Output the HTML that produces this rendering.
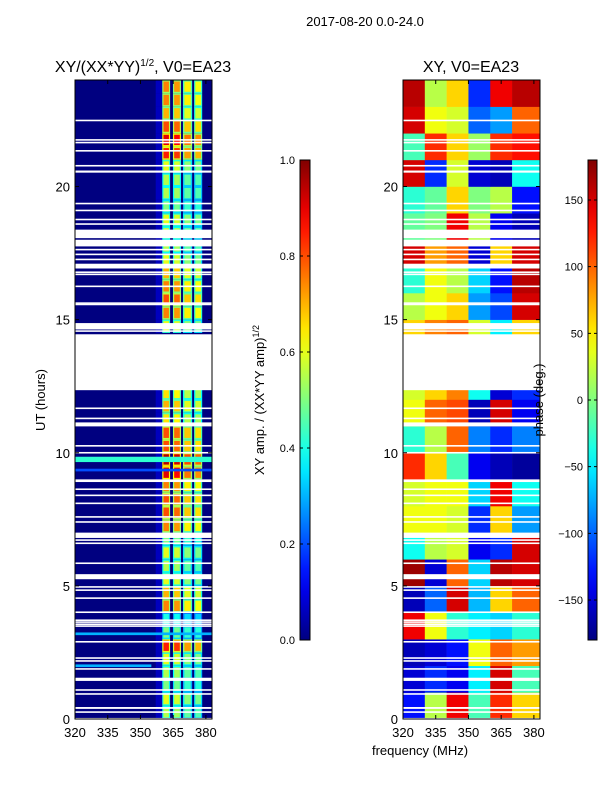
<!DOCTYPE html>
<html><head><meta charset="utf-8">
<style>
body{margin:0;background:#fff;}
svg{display:block;font-family:"Liberation Sans","DejaVu Sans",sans-serif;}
</style></head>
<body>
<svg id="fig" width="600" height="800" viewBox="0 0 600 800">
<rect x="0" y="0" width="600" height="800" fill="#fff"/>
<text x="365" y="26" font-size="13" text-anchor="middle">2017-08-20 0.0-24.0</text>
<text x="143" y="72" font-size="16" text-anchor="middle">XY/(XX*YY)<tspan font-size="10" dy="-6">1/2</tspan><tspan dy="6">, V0=EA23</tspan></text>
<text x="471" y="72" font-size="16" text-anchor="middle">XY, V0=EA23</text>
<g id="left"></g>
<g id="right"></g>
<g id="axes"></g>
<text transform="translate(45,400) rotate(-90)" font-size="13" text-anchor="middle">UT (hours)</text>
<text x="420" y="755" font-size="13" text-anchor="middle">frequency (MHz)</text>
<text transform="translate(264,400) rotate(-90)" font-size="13" text-anchor="middle">XY amp. / (XX*YY amp)<tspan font-size="9" dy="-5">1/2</tspan></text>
<text transform="translate(543,400) rotate(-90)" font-size="13" text-anchor="middle">phase (deg.)</text>
</svg>
<script>
// ---------- data ----------
const freqDomain = [320, 382.8];
const hourDomain = [0, 24];
const xTicks = [320, 335, 350, 365, 380];
const yTicks = [0, 5, 10, 15, 20];
const ampTicks = [0.0, 0.2, 0.4, 0.6, 0.8, 1.0];
const phaseTicks = [-150, -100, -50, 0, 50, 100, 150];
// flagged (white) time ranges in hours
const gaps = [
 [22.45,22.51],[21.72,21.78],[21.62,21.68],[21.31,21.37],[20.75,20.81],[20.52,20.6],
 [19.33,19.39],[19.07,19.13],[18.73,18.79],[18.56,18.62],[18.06,18.38],[17.75,18.0],
 [17.6,17.66],[17.42,17.48],[17.23,17.29],[16.92,17.1],[16.75,16.81],[16.67,16.73],
 [16.22,16.28],[15.59,15.65],[15.54,15.6],[14.63,14.87],[14.54,14.6],[12.35,14.45],
 [11.64,11.7],[11.26,11.32],[10.99,11.14],[10.23,10.29],[9.97,10.03],[8.9,9.0],
 [8.6,8.66],[8.37,8.43],[8.07,8.13],[7.56,7.62],[7.37,7.43],[6.8,7.0],[6.69,6.75],
 [6.57,6.63],[5.82,5.88],[5.25,5.44],[4.93,4.99],[4.81,4.87],[4.51,4.57],[3.98,4.04],
 [3.68,3.74],[3.61,3.67],[3.53,3.59],[3.46,3.52],[2.87,2.93],[2.26,2.32],[2.15,2.21],
 [1.85,1.91],[1.43,1.55],[1.06,1.12],[0.91,0.97],[0.38,0.45],[0.23,0.29],[0,0.04]
];
// RFI band edges in MHz
const bandLo = [360.0, 364.9, 369.5, 374.6];
const bandHi = [363.6, 368.6, 373.7, 378.3];
const bandScale = [1.0, 0.97, 0.85, 0.82];
// band amplitude per half hour, 0.0 .. 24.0
const bandAmp = [
 0.55,0.6,0.5,0.55,0.6,0.85,0.5,0.4,0.75,0.7,0.6,0.55,0.6,0.5,0.75,0.8,
 0.8,0.75,0.9,0.95,0.8,0.8,0.65,0.7,0.65,0.0,0.0,0.0,0.0,0.6,0.75,0.8,
 0.75,0.7,0.6,0.55,0.55,0.6,0.5,0.55,0.55,0.6,0.85,0.9,0.8,0.7,0.75,0.75
];
const bgAmp = 0.0;
// broadband stripes
const stripeStart = [9.65, 9.3, 3.15, 1.95];
const stripeEnd = [9.85, 9.4, 3.25, 2.05];
const stripeAmp = [0.42, 0.2, 0.3, 0.3];
const stripeFreqEnd = [382.8, 382.8, 382.8, 355];
// phase grid: column edges (MHz) and hourly rows (hour 0 .. 23), degrees
const phaseCols = [320, 330, 340, 350, 360, 370, 382.8];
const phaseRows = [
 [-130,20,140,-20,120,60],
 [-150,-120,-140,-50,150,-20],
 [-160,-150,-130,40,100,80],
 [140,40,-30,-50,-60,-30],
 [-160,-100,150,-70,60,100],
 [170,-150,100,-60,160,150],
 [-40,20,30,-140,-120,150],
 [40,40,30,-120,60,-80],
 [30,40,40,-60,140,-40],
 [120,60,-20,-140,-160,-170],
 [-30,20,100,-90,-120,-90],
 [40,100,110,-160,150,-140],
 [30,60,90,-40,-150,-120],
 [0,0,0,0,0,0],
 [60,90,100,30,-50,60],
 [20,40,60,-80,-110,150],
 [-30,40,20,-60,-130,160],
 [150,80,100,-150,60,150],
 [-10,0,140,20,-140,-160],
 [-30,-10,60,0,20,-130],
 [150,-120,30,-150,-160,-40],
 [-20,120,60,10,120,130],
 [150,40,30,-100,-80,100],
 [160,20,60,-120,140,160]
];
// ---------- helpers ----------
const NS = "http://www.w3.org/2000/svg";
const LX = 75, RX = 403, PW = 137, PT = 80, PB = 719;
function fx(f, x0){ return x0 + (f - freqDomain[0]) / (freqDomain[1] - freqDomain[0]) * PW; }
function hy(h){ return PB - (h - hourDomain[0]) / (hourDomain[1] - hourDomain[0]) * (PB - PT); }
function cl(v){ return Math.max(0, Math.min(1, v)); }
function jet(v){
  v = cl(v);
  const r = cl(1.5 - Math.abs(4*v - 3)), g = cl(1.5 - Math.abs(4*v - 2)), b = cl(1.5 - Math.abs(4*v - 1));
  return "rgb(" + Math.round(r*255) + "," + Math.round(g*255) + "," + Math.round(b*255) + ")";
}
function mk(parent, tag, attrs){
  const e = document.createElementNS(NS, tag);
  for (const k in attrs) e.setAttribute(k, attrs[k]);
  parent.appendChild(e);
  return e;
}
// ---------- left amplitude heatmap ----------
const L = document.getElementById("left");
let r0 = mk(L, "rect", {x: LX, y: PT, width: PW, height: PB - PT, fill: jet(bgAmp)});


for (let i = 0; i < bandAmp.length; i++) {
  const h0 = i * 0.5, h1 = h0 + 0.5;
  const a = bandAmp[i];
  if (a <= 0) continue;
  let g = mk(L, "rect", {x: fx(357, LX), y: hy(h1), width: fx(bandLo[0], LX) - fx(357, LX), height: hy(h0) - hy(h1), fill: jet(0.06)});
  
  
  for (let b = 0; b < bandLo.length; b++) {
    const v = a * bandScale[b];
    const x0 = fx(bandLo[b], LX), x1 = fx(bandHi[b], LX);
    let e = mk(L, "rect", {x: x0, y: hy(h1), width: x1 - x0, height: hy(h0) - hy(h1), fill: jet(v * 0.7)});
    
    
    const w = x1 - x0;
    let c = mk(L, "rect", {x: x0 + w*0.15, y: hy(h1) + 1.5, width: w*0.7, height: hy(h0) - hy(h1) - 3, fill: jet(v)});
    
    
  }
}
for (let i = 0; i < stripeStart.length; i++) {
  let s = mk(L, "rect", {x: LX, y: hy(stripeEnd[i]), width: fx(stripeFreqEnd[i], LX) - LX, height: hy(stripeStart[i]) - hy(stripeEnd[i]), fill: jet(stripeAmp[i])});
  
  
}
// ---------- right phase heatmap ----------
const R = document.getElementById("right");
for (let i = 0; i < phaseRows.length; i++) {
  for (let j = 0; j < phaseCols.length - 1; j++) {
    const x0 = fx(phaseCols[j], RX), x1 = fx(phaseCols[j+1], RX);
    let c = mk(R, "rect", {x: x0, y: hy(i + 1), width: x1 - x0 + 0.3, height: hy(i) - hy(i + 1) + 0.3, fill: jet((phaseRows[i][j] + 180) / 360)});
    
    
  }
}
[[L, LX], [R, RX]].forEach(function(p){
  gaps.forEach(function(gp){
    let w = mk(p[0], "rect", {x: p[1], y: hy(gp[1]), width: PW, height: Math.max(1.2, hy(gp[0]) - hy(gp[1])), fill: "#fff"});
    
    
  });
});
// ---------- axes ----------
const A = document.getElementById("axes");
[LX, RX].forEach(function(x0){
  let fr = mk(A, "rect", {x: x0, y: PT, width: PW, height: PB - PT, fill: "none", stroke: "#000", "stroke-width": 1});
  
  
  xTicks.forEach(function(t){
    const x = fx(t, x0);
    let tk = mk(A, "path", {d: "M" + x + " " + PB + "v-4M" + x + " " + PT + "v4", stroke: "#000"});
    
    
    let lb = mk(A, "text", {x: x, y: PB + 18, "font-size": 13, "text-anchor": "middle"});
    lb.textContent = t;
    
    
  });
  yTicks.forEach(function(t){
    const y = hy(t);
    let tk = mk(A, "path", {d: "M" + x0 + " " + y + "h4M" + (x0 + PW) + " " + y + "h-4", stroke: "#000"});
    
    
    let lb = mk(A, "text", {x: x0 - 5, y: y + 5, "font-size": 13, "text-anchor": "end"});
    lb.textContent = t;
    
    
  });
});
const defs = mk(document.getElementById("fig"), "defs", {});
const grad = mk(defs, "linearGradient", {id: "jetg", x1: 0, y1: 1, x2: 0, y2: 0});
for (let k = 0; k <= 20; k++) mk(grad, "stop", {offset: k / 20, "stop-color": jet(k / 20)});
const CT = 160, CB = 640;
function cbar(x, w, ticks, lo, hi, fmt, name){
  let b = mk(A, "rect", {x: x, y: CT, width: w, height: CB - CT, fill: "url(#jetg)", stroke: "#000", "stroke-width": 1});
  
  
  ticks.forEach(function(t){
    const y = CB - (t - lo) / (hi - lo) * (CB - CT);
    let tk = mk(A, "path", {d: "M" + x + " " + y + "h3M" + (x + w) + " " + y + "h-3", stroke: "#000"});
    
    
    let lb = mk(A, "text", {x: x - 5, y: y + 4, "font-size": 11, "text-anchor": "end"});
    lb.textContent = fmt(t);
    
    
  });
}
cbar(300, 10, ampTicks, 0, 1, function(t){ return t.toFixed(1); }, 'amp-colorbar');
cbar(588, 9, phaseTicks, -180, 180, function(t){ return t < 0 ? "\u2212" + Math.abs(t) : String(t); }, 'phase-colorbar');
</script>
</body></html>
